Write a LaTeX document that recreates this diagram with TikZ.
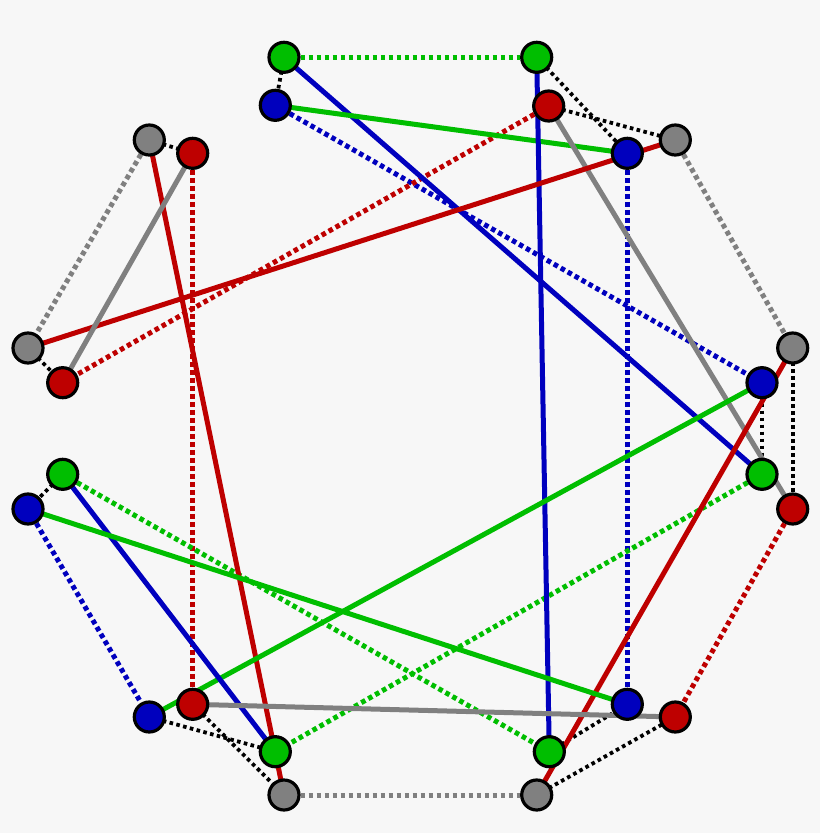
\documentclass[tikz,border=0pt]{standalone}
\definecolor{bgc}{RGB}{247,247,247}
\definecolor{cg}{RGB}{0,190,0}
\definecolor{cr}{RGB}{190,0,0}
\definecolor{cb}{RGB}{0,0,190}
\definecolor{cy}{RGB}{128,128,128}
\pgfdeclarelayer{bglayer}
\pgfdeclarelayer{edgelayer}
\pgfsetlayers{bglayer,edgelayer,main}
\tikzset{
  vtx/.style={circle,draw=black,line width=3.2pt,minimum size=30pt,inner sep=0pt},
  gv/.style={vtx,fill=cg},
  rv/.style={vtx,fill=cr},
  bv/.style={vtx,fill=cb},
  yv/.style={vtx,fill=cy},
  solidedge/.style={line width=5pt},
  dotedge/.style={line width=5pt,dash pattern=on 4.6pt off 3.4pt},
  blackdot/.style={line width=3.8pt,dash pattern=on 3.6pt off 3.4pt,black},
}
\begin{document}
\begin{tikzpicture}[x=1pt,y=-1pt]
\begin{pgfonlayer}{bglayer}
\fill[bgc] (0,0) rectangle (820,833);
\end{pgfonlayer}
\useasboundingbox (0,0) rectangle (820,833);
% nodes
\node[gv] (G1) at (284,57.3) {};
\node[gv] (G2) at (536.7,57.3) {};
\node[bv] (B1) at (275.3,105.3) {};
\node[rv] (R1) at (548.7,106) {};
\node[bv] (B2) at (627.3,153.3) {};
\node[yv] (Y1) at (675.3,140) {};
\node[yv] (Y2) at (149.3,140) {};
\node[rv] (R2) at (192.7,153.3) {};
\node[yv] (Y3) at (28,348) {};
\node[rv] (R3) at (62.7,382.7) {};
\node[yv] (Y4) at (792.7,348) {};
\node[bv] (B3) at (762,382.7) {};
\node[gv] (G3) at (762,474.3) {};
\node[rv] (R4) at (792.7,509) {};
\node[gv] (G4) at (62.7,474.3) {};
\node[bv] (B4) at (28,509) {};
\node[bv] (B5) at (149.3,717) {};
\node[rv] (R5) at (192.7,704.3) {};
\node[gv] (G5) at (275.3,751.7) {};
\node[yv] (Y5) at (284,795) {};
\node[yv] (Y6) at (536.7,795) {};
\node[gv] (G6) at (549.3,751.7) {};
\node[bv] (B6) at (627.3,704.3) {};
\node[rv] (R6) at (675.3,717) {};
\begin{pgfonlayer}{edgelayer}
% black dotted
\draw[blackdot] (G1.center) -- (B1.center);
\draw[blackdot] (Y2.center) -- (R2.center);
\draw[blackdot] (Y3.center) -- (R3.center);
\draw[blackdot] (G2.center) -- (B2.center);
\draw[blackdot] (R1.center) -- (Y1.center);
\draw[blackdot] (Y4.center) -- (R4.center);
\draw[blackdot] (B3.center) -- (G3.center);
\draw[blackdot] (G4.center) -- (B4.center);
\draw[blackdot] (B5.center) -- (G5.center);
\draw[blackdot] (R5.center) -- (Y5.center);
\draw[blackdot] (G6.center) -- (B6.center);
\draw[blackdot] (Y6.center) -- (R6.center);
% coloured dotted
\draw[dotedge,cg] (G1) -- (G2);
\draw[dotedge,cb] (B1) -- (B3);
\draw[dotedge,cr] (R1) -- (R3);
\draw[dotedge,cr] (R2) -- (R5);
\draw[dotedge,cy] (Y2) -- (Y3);
\draw[dotedge,cy] (Y1) -- (Y4);
\draw[dotedge,cb] (B2) -- (B6);
\draw[dotedge,cr] (R4) -- (R6);
\draw[dotedge,cg] (G3) -- (G5);
\draw[dotedge,cg] (G4) -- (G6);
\draw[dotedge,cb] (B4) -- (B5);
\draw[dotedge,cy] (Y5) -- (Y6);
% solid
\draw[solidedge,cb] (G1.center) -- (G3.center);
\draw[solidedge,cg] (B1.center) -- (B2.center);
\draw[solidedge,cb] (G2.center) -- (G6.center);
\draw[solidedge,cy] (R1.center) -- (R4.center);
\draw[solidedge,cr] (Y1.center) -- (Y3.center);
\draw[solidedge,cr] (Y2.center) -- (Y5.center);
\draw[solidedge,cy] (R2.center) -- (R3.center);
\draw[solidedge,cr] (Y4.center) -- (Y6.center);
\draw[solidedge,cg] (B3.center) -- (B5.center);
\draw[solidedge,cb] (G4.center) -- (G5.center);
\draw[solidedge,cg] (B4.center) -- (B6.center);
\draw[solidedge,cy] (R5.center) -- (R6.center);
\end{pgfonlayer}
\end{tikzpicture}
\end{document}
